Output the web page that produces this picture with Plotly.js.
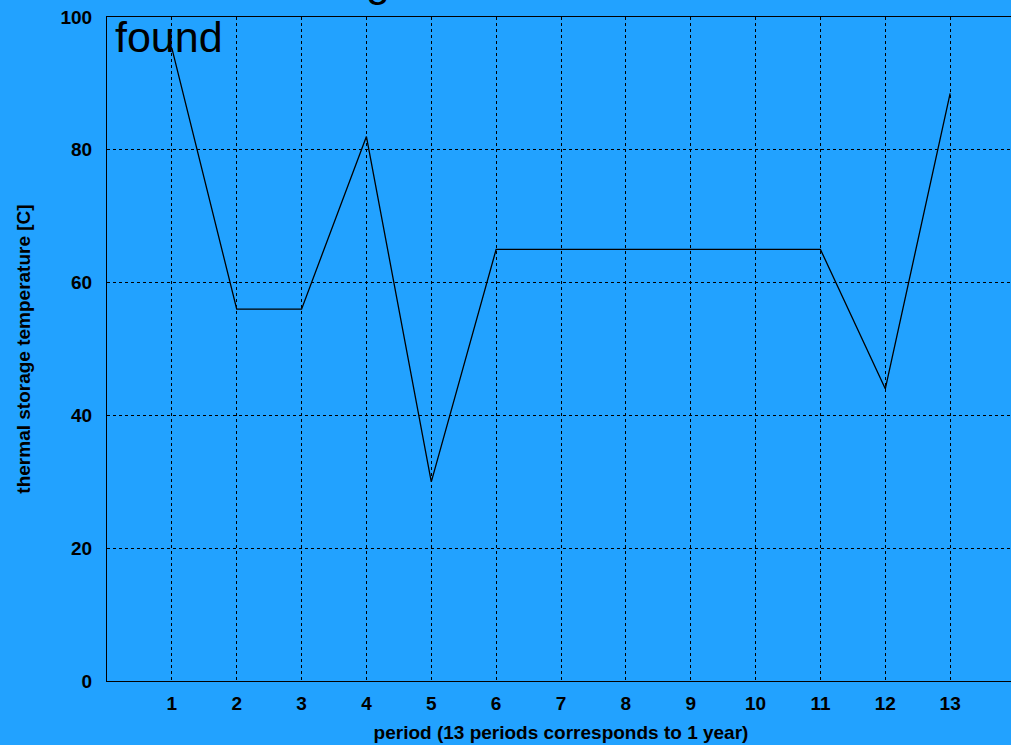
<!DOCTYPE html>
<html>
<head>
<meta charset="utf-8">
<script src="https://cdn.plot.ly/plotly-3.0.1.min.js"></script>
<style>
  html, body { margin: 0; padding: 0; overflow: hidden; background: #22a2ff; }
  #chart { width: 1015px; height: 745px; }
</style>
</head>
<body>
<div id="chart"></div>
<script>
// Thermal storage temperature per period (13 periods = 1 year)
const periods = [1, 2, 3, 4, 5, 6, 7, 8, 9, 10, 11, 12, 13];
const storageTemp = [95.3, 56, 56, 82, 30, 65, 65, 65, 65, 65, 65, 44, 88.5];
const yTicks = [0, 20, 40, 60, 80, 100];
const xTicks = periods;

const bg = '#22a2ff';
const labelFont = { family: 'Liberation Sans, Arial, sans-serif', size: 19, color: '#000', weight: 'bold' };
const titleFont = { family: 'Liberation Sans, Arial, sans-serif', size: 19, color: '#000', weight: 'bold' };

const trace = {
  x: periods,
  y: storageTemp,
  type: 'scatter',
  mode: 'lines',
  line: { color: '#000', width: 1.3 },
  hoverinfo: 'x+y'
};

const layout = {
  width: 1015,
  height: 745,
  paper_bgcolor: bg,
  plot_bgcolor: bg,
  showlegend: false,
  margin: { l: 107, r: 0, t: 17, b: 64 },
  xaxis: {
    range: [0, 14],
    tickvals: xTicks,
    ticktext: xTicks.map(String),
    showgrid: true,
    gridcolor: '#000',
    griddash: 'dot',
    gridwidth: 1,
    zeroline: false,
    showline: true,
    linecolor: '#000',
    linewidth: 1,
    mirror: true,
    ticks: '',
    ticklabelstandoff: 5,
    tickfont: labelFont,
    title: { text: 'period (13 periods corresponds to 1 year)', font: titleFont, standoff: 12 }
  },
  yaxis: {
    range: [0, 100],
    tickvals: yTicks,
    showgrid: true,
    gridcolor: '#000',
    griddash: 'dot',
    gridwidth: 1,
    zeroline: false,
    showline: true,
    linecolor: '#000',
    linewidth: 1,
    mirror: true,
    ticks: '',
    ticklabelstandoff: 10,
    tickfont: labelFont,
    title: { text: 'thermal storage temperature [C]', font: titleFont, standoff: 24 }
  },
  annotations: [{
    text: 'thermal storage solution<br>found',
    xref: 'paper', yref: 'paper',
    x: 0, y: 1,
    xanchor: 'left', yanchor: 'top',
    xshift: 6, yshift: 62,
    align: 'left',
    showarrow: false,
    font: { family: 'Liberation Sans, Arial, sans-serif', size: 43, color: '#000' }
  }]
};

Plotly.newPlot('chart', [trace], layout, { displayModeBar: false, staticPlot: true });
</script>
</body>
</html>
